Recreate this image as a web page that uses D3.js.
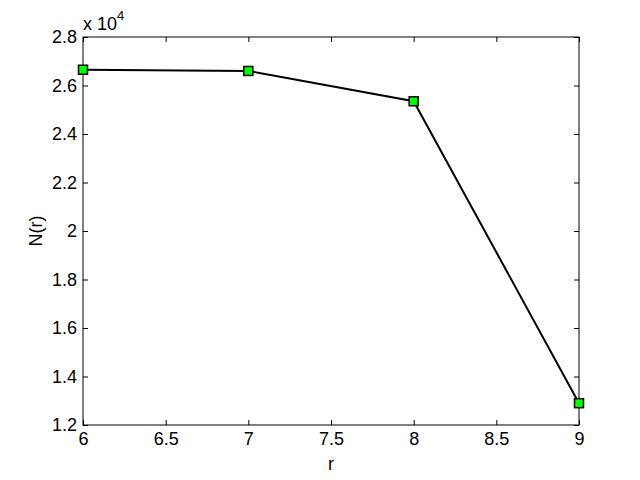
<!DOCTYPE html>
<html><head><meta charset="utf-8">
<script src="https://cdn.jsdelivr.net/npm/d3@7"></script>
<style>body{margin:0;background:#fff}svg{display:block}text{font-family:Arial,"Liberation Sans",Helvetica,sans-serif}</style>
</head><body>
<script>
const rValues = [6, 7, 8, 9];
const nValues = [26650, 26600, 25350, 12900];
const xTicks = [6, 6.5, 7, 7.5, 8, 8.5, 9];
const yTicks = [1.2, 1.4, 1.6, 1.8, 2, 2.2, 2.4, 2.6, 2.8];
const W = 640, H = 480;
const m = {l: 83, r: 61, t: 37, b: 55};
const svg = d3.select("body").append("svg").attr("width", W).attr("height", H);
const x = d3.scaleLinear().domain([6, 9]).range([m.l, W - m.r]);
const y = d3.scaleLinear().domain([1.2, 2.8]).range([H - m.b, m.t]);
const g = svg.append("g");
g.append("rect").attr("x", m.l).attr("y", m.t).attr("width", W - m.l - m.r).attr("height", H - m.t - m.b)
  .attr("fill", "#fff").attr("stroke", "#000").attr("stroke-width", 1);
const fs = 18;
const xb = d3.axisBottom(x).tickValues(xTicks).tickSizeInner(-5).tickSizeOuter(0).tickPadding(7).tickFormat(d3.format("~g"));
const xt = d3.axisTop(x).tickValues(xTicks).tickSizeInner(-5).tickSizeOuter(0).tickFormat("");
const yl = d3.axisLeft(y).tickValues(yTicks).tickSizeInner(-5).tickSizeOuter(0).tickPadding(6).tickFormat(d3.format("~g"));
const yr = d3.axisRight(y).tickValues(yTicks).tickSizeInner(-5).tickSizeOuter(0).tickFormat("");
function style(sel){ sel.select(".domain").remove(); sel.selectAll("line").attr("stroke","#000"); sel.selectAll("text").attr("font-size", fs).attr("fill","#000").style("font-family","Arial, 'Liberation Sans', sans-serif"); }
g.append("g").attr("transform", `translate(0,${H - m.b})`).call(xb).call(style);
g.append("g").attr("transform", `translate(0,${m.t})`).call(xt).call(style);
g.append("g").attr("transform", `translate(${m.l},0)`).call(yl).call(style);
g.append("g").attr("transform", `translate(${W - m.r},0)`).call(yr).call(style);
const data = rValues.map((r, i) => ({r, n: nValues[i] / 1e4}));
g.append("path").datum(data).attr("fill", "none").attr("stroke", "#000").attr("stroke-width", 2)
  .attr("d", d3.line().x(d => x(d.r)).y(d => y(d.n)));
g.selectAll(".mk").data(data).enter().append("rect")
  .attr("x", d => x(d.r) - 4.5).attr("y", d => y(d.n) - 4.5).attr("width", 9).attr("height", 9)
  .attr("fill", "#00ff00").attr("stroke", "#000").attr("stroke-width", 1.5);
const ex = svg.append("text").attr("x", m.l).attr("y", 30).attr("font-size", fs);
ex.append("tspan").text("x 10");
ex.append("tspan").attr("dy", -10).attr("font-size", 13).text("4");
svg.append("text").attr("x", (m.l + W - m.r) / 2).attr("y", 470).attr("text-anchor", "middle").attr("font-size", fs).text("r");
svg.append("text").attr("transform", `translate(42,${(m.t + H - m.b) / 2}) rotate(-90)`).attr("text-anchor", "middle").attr("font-size", fs).text("N(r)");
</script>
</body></html>
